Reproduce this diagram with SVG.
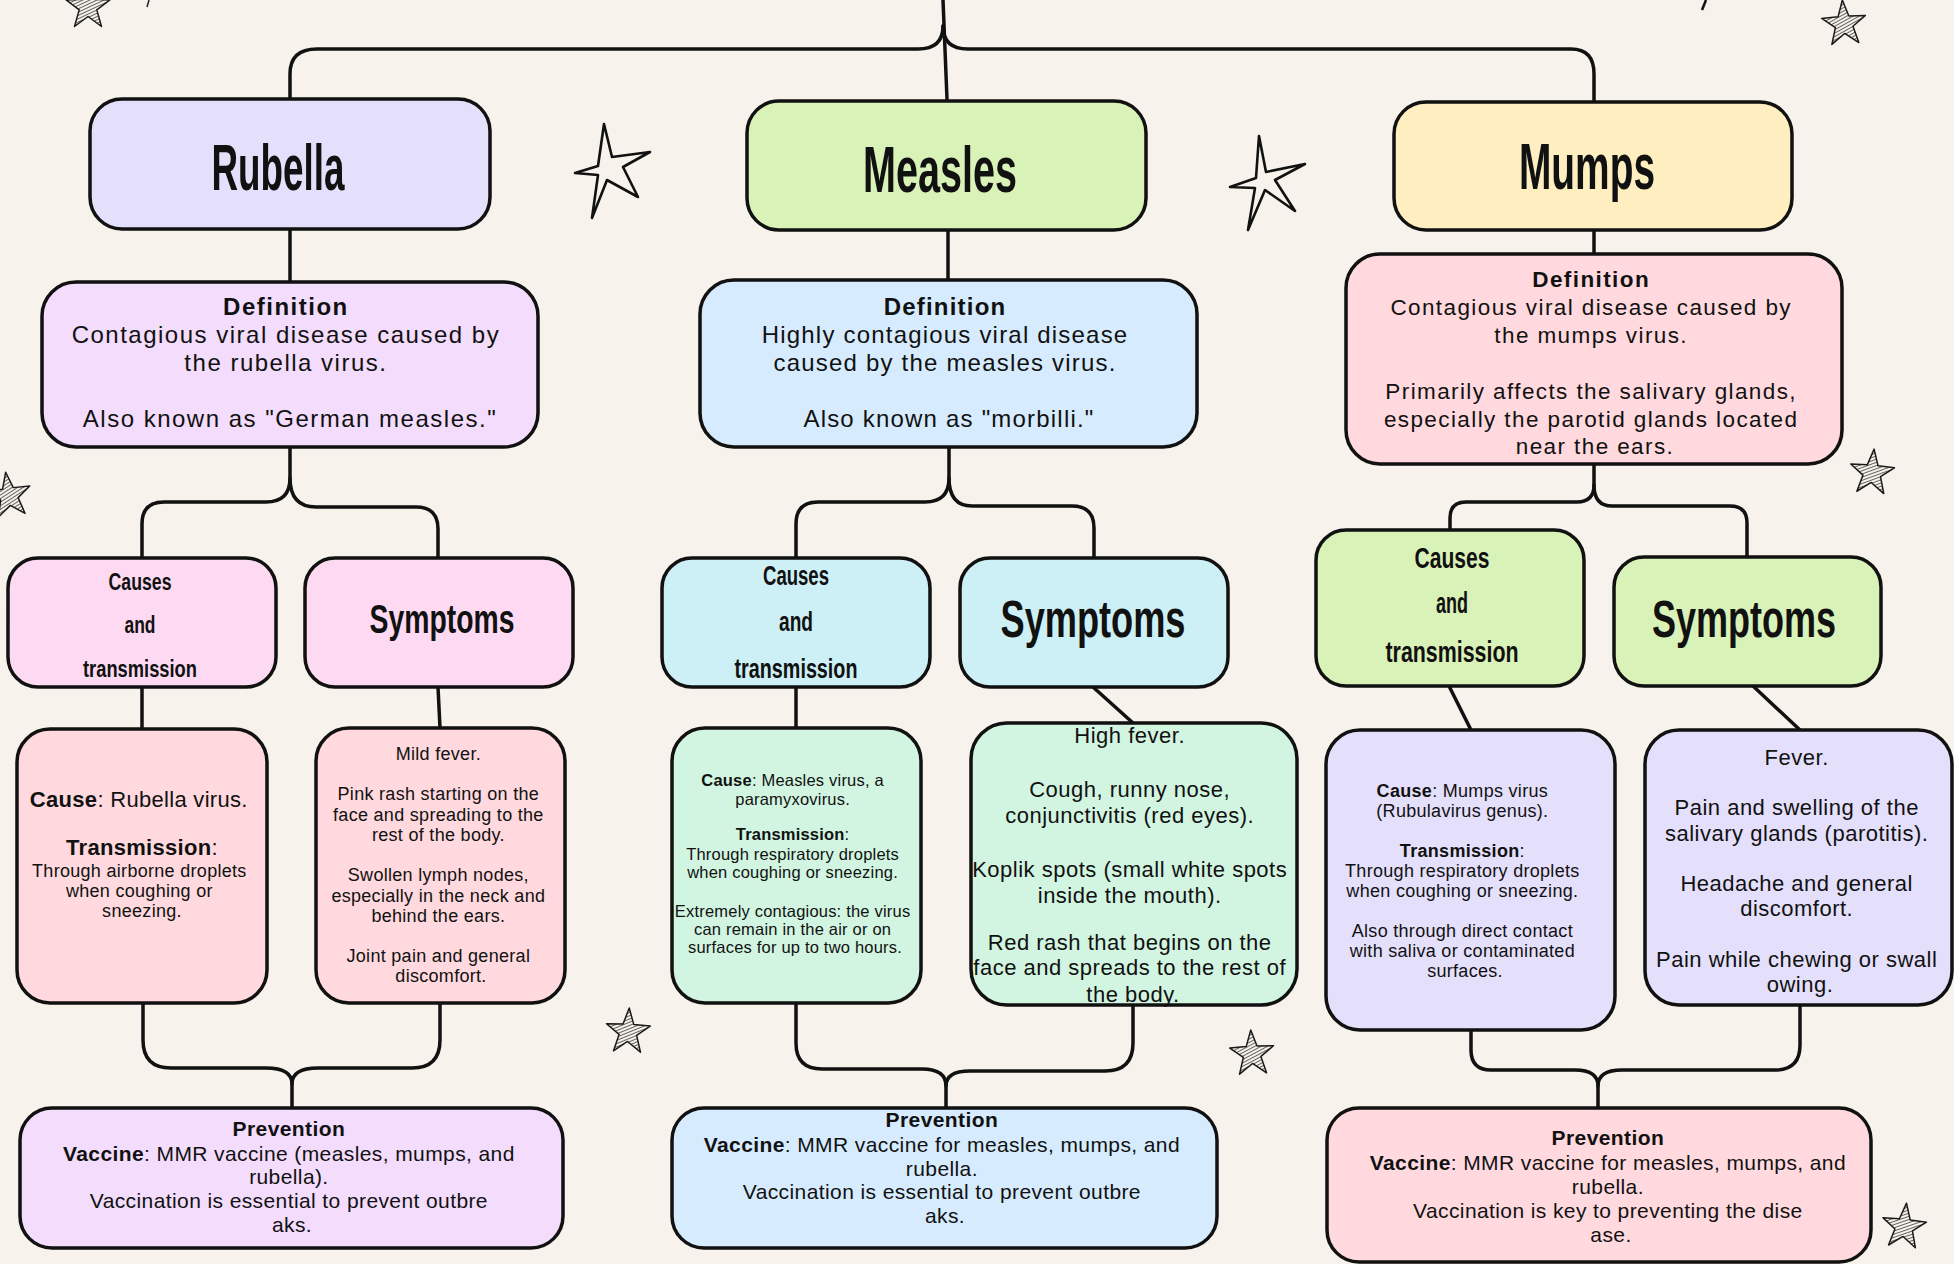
<svg xmlns="http://www.w3.org/2000/svg" width="1954" height="1264" viewBox="0 0 1954 1264">
<style>
.box{stroke:#111;stroke-width:3.5}
.conn{fill:none;stroke:#111;stroke-width:3.5;stroke-linecap:round;stroke-linejoin:round}
.ttl{font-family:"Liberation Sans",Arial,sans-serif;font-weight:bold;fill:#111;text-anchor:middle}
.t{font-family:"Liberation Sans",Arial,sans-serif;fill:#111;text-anchor:middle}
.def{font-size:24px;letter-spacing:1.2px}
.defr{font-size:24px;letter-spacing:1.5px}
.defs{font-size:22.5px;letter-spacing:1.4px}
.b{font-weight:bold}
.s18{font-size:18px;letter-spacing:0.3px}
.s16{font-size:16.5px;letter-spacing:0.2px}
.s22{font-size:22px;letter-spacing:0.5px}
.pv{font-size:21px;letter-spacing:0.4px}
.ostar{fill:none;stroke:#111;stroke-width:2.6;stroke-linejoin:round}
.hstar{fill:url(#hatch);stroke:#1a1a1a;stroke-width:1.5;stroke-linejoin:round}
</style>
<defs>
<pattern id="hatch" patternUnits="userSpaceOnUse" width="3" height="3" patternTransform="rotate(65)">
<line x1="0" y1="0" x2="0" y2="3" stroke="#222" stroke-width="1.4"/>
</pattern>
<path id="star" d="M0,-24 L5.4,-7.7 L21.9,-7.1 L8.8,2.9 L13.5,19.5 L0,9.5 L-13.5,19.5 L-8.8,2.9 L-21.9,-7.1 L-5.4,-7.7 Z"/>
</defs>
<rect width="1954" height="1264" fill="#F7F3EC"/>

<g id="decorations">
<path class="ostar" d="M604,124 L612,157 L650,152 L623,167 L638,197 L607,180 L592,218 L598,175 L575,173 L598,166 Z"/>
<path class="ostar" d="M1259,136 L1266,172 L1305,164 L1275,180 L1295,211 L1265,190 L1248,230 L1255,188 L1230,187 L1256,178 Z"/>
<use href="#star" class="hstar" transform="translate(88,7)"/>
<use href="#star" class="hstar" transform="translate(1844,24) rotate(-4)"/>
<use href="#star" class="hstar" transform="translate(1872,473) rotate(5)"/>
<use href="#star" class="hstar" transform="translate(9,496) rotate(-8)"/>
<use href="#star" class="hstar" transform="translate(628,1032) rotate(3)"/>
<use href="#star" class="hstar" transform="translate(1252,1054) rotate(-3)"/>
<use href="#star" class="hstar" transform="translate(1904,1227) rotate(6)"/>
<path d="M149,0 L147,7" stroke="#222" stroke-width="1.5" fill="none"/>
<path d="M1706,0 Q1704,5 1702,10" stroke="#111" stroke-width="2.5" fill="none"/>
</g>

<g id="connectors">
<path class="conn" d="M943,0 L947,99"/>
<path class="conn" d="M943,26 Q943,49 918,49 H317 Q290,49 290,74 V99"/>
<path class="conn" d="M943,26 Q943,49 968,49 H1571 Q1594,49 1594,74 V102"/>
<path class="conn" d="M290,229 V282"/>
<path class="conn" d="M948,230 V280"/>
<path class="conn" d="M1594,230 V254"/>
<path class="conn" d="M290,447 V478 Q290,502 266,502 H164 Q142,502 142,524 V558"/>
<path class="conn" d="M290,478 Q290,507 316,507 H416 Q438,507 438,529 V558"/>
<path class="conn" d="M949,447 V478 Q949,502 925,502 H818 Q796,502 796,524 V558"/>
<path class="conn" d="M949,478 Q949,506 972,506 H1072 Q1094,506 1094,528 V558"/>
<path class="conn" d="M1594,464 V485 Q1594,502 1577,502 H1466 Q1450,502 1450,518 V530"/>
<path class="conn" d="M1594,485 Q1594,506 1612,506 H1730 Q1747,506 1747,523 V557"/>
<path class="conn" d="M142,687 V729"/>
<path class="conn" d="M438,687 L440,728"/>
<path class="conn" d="M796,687 V728"/>
<path class="conn" d="M1093,687 L1133,723"/>
<path class="conn" d="M1449,686 L1471,730"/>
<path class="conn" d="M1753,686 L1800,730"/>
<path class="conn" d="M143,1003 V1040 Q143,1068 171,1068 H266 Q292,1068 292,1084 V1108"/>
<path class="conn" d="M440,1003 V1040 Q440,1068 412,1068 H318 Q292,1068 292,1084"/>
<path class="conn" d="M796,1003 V1043 Q796,1069 822,1069 H922 Q946,1069 946,1086 V1108"/>
<path class="conn" d="M1133,1005 V1043 Q1133,1071 1105,1071 H970 Q946,1071 946,1086"/>
<path class="conn" d="M1471,1030 V1050 Q1471,1070 1491,1070 H1575 Q1598,1070 1598,1086 V1108"/>
<path class="conn" d="M1800,1005 V1045 Q1800,1070 1775,1070 H1622 Q1598,1070 1598,1086"/>
</g>

<g id="rubella">
<rect class="box" x="90" y="99" width="400" height="130" rx="32" fill="#E4DFFB"/>
<text class="ttl" x="278" y="190" font-size="64" textLength="133" lengthAdjust="spacingAndGlyphs">Rubella</text>
</g>
<g id="measles">
<rect class="box" x="747" y="101" width="399" height="129" rx="32" fill="#D9F2B8"/>
<text class="ttl" x="940" y="192" font-size="64" textLength="154" lengthAdjust="spacingAndGlyphs">Measles</text>
</g>
<g id="mumps">
<rect class="box" x="1394" y="102" width="398" height="128" rx="32" fill="#FFEFC0"/>
<text class="ttl" x="1587" y="189" font-size="64" textLength="136" lengthAdjust="spacingAndGlyphs">Mumps</text>
</g>

<g id="rubella-definition">
<rect class="box" x="42" y="282" width="496" height="165" rx="34" fill="#F3DCFC"/>
<text class="t defr">
<tspan class="b" x="290" y="315">Definition</tspan>
<tspan x="290" y="343">Contagious viral disease caused by</tspan>
<tspan x="290" y="371">the rubella virus.</tspan>
<tspan x="290" y="427">Also known as "German measles."</tspan>
</text>
</g>
<g id="measles-definition">
<rect class="box" x="700" y="280" width="497" height="167" rx="34" fill="#D6EBFD"/>
<text class="t def">
<tspan class="b" x="949" y="315">Definition</tspan>
<tspan x="949" y="343">Highly contagious viral disease</tspan>
<tspan x="949" y="371">caused by the measles virus.</tspan>
<tspan x="949" y="427">Also known as "morbilli."</tspan>
</text>
</g>
<g id="mumps-definition">
<rect class="box" x="1346" y="254" width="496" height="210" rx="34" fill="#FFD9DE"/>
<text class="t defs">
<tspan class="b" x="1595" y="287">Definition</tspan>
<tspan x="1595" y="315">Contagious viral disease caused by</tspan>
<tspan x="1595" y="343">the mumps virus.</tspan>
<tspan x="1595" y="399">Primarily affects the salivary glands,</tspan>
<tspan x="1595" y="427">especially the parotid glands located</tspan>
<tspan x="1595" y="454">near the ears.</tspan>
</text>
</g>

<g id="rubella-causes">
<rect class="box" x="8" y="558" width="268" height="129" rx="30" fill="#FDDAF2"/>
<text class="ttl" x="140" y="590" font-size="23" textLength="63" lengthAdjust="spacingAndGlyphs">Causes</text>
<text class="ttl" x="140" y="633" font-size="23" textLength="31" lengthAdjust="spacingAndGlyphs">and</text>
<text class="ttl" x="140" y="677" font-size="23" textLength="114" lengthAdjust="spacingAndGlyphs">transmission</text>
</g>
<g id="rubella-symptoms">
<rect class="box" x="305" y="558" width="268" height="129" rx="30" fill="#FDDAF2"/>
<text class="ttl" x="442" y="633" font-size="41" textLength="145" lengthAdjust="spacingAndGlyphs">Symptoms</text>
</g>
<g id="measles-causes">
<rect class="box" x="662" y="558" width="268" height="129" rx="30" fill="#CCF0F5"/>
<text class="ttl" x="796" y="585" font-size="27" textLength="66" lengthAdjust="spacingAndGlyphs">Causes</text>
<text class="ttl" x="796" y="631" font-size="27" textLength="34" lengthAdjust="spacingAndGlyphs">and</text>
<text class="ttl" x="796" y="678" font-size="27" textLength="123" lengthAdjust="spacingAndGlyphs">transmission</text>
</g>
<g id="measles-symptoms">
<rect class="box" x="960" y="558" width="268" height="129" rx="30" fill="#CCF0F5"/>
<text class="ttl" x="1093" y="637" font-size="51" textLength="185" lengthAdjust="spacingAndGlyphs">Symptoms</text>
</g>
<g id="mumps-causes">
<rect class="box" x="1316" y="530" width="268" height="156" rx="30" fill="#D9F2B8"/>
<text class="ttl" x="1452" y="568" font-size="29" textLength="75" lengthAdjust="spacingAndGlyphs">Causes</text>
<text class="ttl" x="1452" y="613" font-size="29" textLength="32" lengthAdjust="spacingAndGlyphs">and</text>
<text class="ttl" x="1452" y="662" font-size="29" textLength="133" lengthAdjust="spacingAndGlyphs">transmission</text>
</g>
<g id="mumps-symptoms">
<rect class="box" x="1614" y="557" width="267" height="129" rx="30" fill="#D9F2B8"/>
<text class="ttl" x="1744" y="637" font-size="51" textLength="184" lengthAdjust="spacingAndGlyphs">Symptoms</text>
</g>

<g id="rubella-cause-details">
<rect class="box" x="17" y="729" width="250" height="274" rx="33" fill="#FFD9DE"/>
<text class="t" font-size="22" letter-spacing="0.3">
<tspan x="142" y="807"><tspan class="b">Cause</tspan>: Rubella virus.</tspan>
<tspan x="142" y="855"><tspan class="b">Transmission</tspan>:</tspan>
</text>
<text class="t s18">
<tspan x="142" y="877">Through airborne droplets</tspan>
<tspan x="142" y="897">when coughing or</tspan>
<tspan x="142" y="917">sneezing.</tspan>
</text>
</g>
<g id="rubella-symptom-details">
<rect class="box" x="316" y="728" width="249" height="275" rx="33" fill="#FFD9DE"/>
<text class="t s18">
<tspan x="441" y="760">Mild fever.</tspan>
<tspan x="441" y="800">Pink rash starting on the</tspan>
<tspan x="441" y="821">face and spreading to the</tspan>
<tspan x="441" y="841">rest of the body.</tspan>
<tspan x="441" y="881">Swollen lymph nodes,</tspan>
<tspan x="441" y="902">especially in the neck and</tspan>
<tspan x="441" y="922">behind the ears.</tspan>
<tspan x="441" y="962">Joint pain and general</tspan>
<tspan x="441" y="982">discomfort.</tspan>
</text>
</g>
<g id="measles-cause-details">
<rect class="box" x="672" y="728" width="249" height="275" rx="33" fill="#D1F5E0"/>
<text class="t s16">
<tspan x="795" y="786"><tspan class="b">Cause</tspan>: Measles virus, a</tspan>
<tspan x="795" y="805">paramyxovirus.</tspan>
<tspan x="795" y="840"><tspan class="b">Transmission</tspan>:</tspan>
<tspan x="795" y="860">Through respiratory droplets</tspan>
<tspan x="795" y="878">when coughing or sneezing.</tspan>
<tspan x="795" y="917">Extremely contagious: the virus</tspan>
<tspan x="795" y="935">can remain in the air or on</tspan>
<tspan x="795" y="953">surfaces for up to two hours.</tspan>
</text>
</g>
<g id="measles-symptom-details">
<rect class="box" x="971" y="723" width="326" height="282" rx="36" fill="#D1F5E0"/>
<text class="t s22">
<tspan x="1133" y="743">High fever.</tspan>
<tspan x="1133" y="797">Cough, runny nose,</tspan>
<tspan x="1133" y="823">conjunctivitis (red eyes).</tspan>
<tspan x="1133" y="877">Koplik spots (small white spots</tspan>
<tspan x="1133" y="903">inside the mouth).</tspan>
<tspan x="1133" y="950">Red rash that begins on the</tspan>
<tspan x="1133" y="975">face and spreads to the rest of</tspan>
<tspan x="1133" y="1002">the body.</tspan>
</text>
</g>
<g id="mumps-cause-details">
<rect class="box" x="1326" y="730" width="289" height="300" rx="34" fill="#E4DFFB"/>
<text class="t s18">
<tspan x="1465" y="797"><tspan class="b">Cause</tspan>: Mumps virus</tspan>
<tspan x="1465" y="817">(Rubulavirus genus).</tspan>
<tspan x="1465" y="857"><tspan class="b">Transmission</tspan>:</tspan>
<tspan x="1465" y="877">Through respiratory droplets</tspan>
<tspan x="1465" y="897">when coughing or sneezing.</tspan>
<tspan x="1465" y="937">Also through direct contact</tspan>
<tspan x="1465" y="957">with saliva or contaminated</tspan>
<tspan x="1465" y="977">surfaces.</tspan>
</text>
</g>
<g id="mumps-symptom-details">
<rect class="box" x="1645" y="730" width="307" height="275" rx="34" fill="#E4DFFB"/>
<text class="t s22">
<tspan x="1800" y="765">Fever.</tspan>
<tspan x="1800" y="815">Pain and swelling of the</tspan>
<tspan x="1800" y="841">salivary glands (parotitis).</tspan>
<tspan x="1800" y="891">Headache and general</tspan>
<tspan x="1800" y="916">discomfort.</tspan>
<tspan x="1800" y="967">Pain while chewing or swall</tspan>
<tspan x="1800" y="992">owing.</tspan>
</text>
</g>

<g id="rubella-prevention">
<rect class="box" x="20" y="1108" width="543" height="140" rx="32" fill="#F3DCFC"/>
<text class="t pv">
<tspan class="b" x="292" y="1136">Prevention</tspan>
<tspan x="292" y="1161"><tspan class="b">Vaccine</tspan>: MMR vaccine (measles, mumps, and</tspan>
<tspan x="292" y="1184">rubella).</tspan>
<tspan x="292" y="1208">Vaccination is essential to prevent outbre</tspan>
<tspan x="292" y="1232">aks.</tspan>
</text>
</g>
<g id="measles-prevention">
<rect class="box" x="672" y="1108" width="545" height="140" rx="32" fill="#D6EBFD"/>
<text class="t pv">
<tspan class="b" x="945" y="1127">Prevention</tspan>
<tspan x="945" y="1152"><tspan class="b">Vaccine</tspan>: MMR vaccine for measles, mumps, and</tspan>
<tspan x="945" y="1176">rubella.</tspan>
<tspan x="945" y="1199">Vaccination is essential to prevent outbre</tspan>
<tspan x="945" y="1223">aks.</tspan>
</text>
</g>
<g id="mumps-prevention">
<rect class="box" x="1327" y="1108" width="544" height="154" rx="32" fill="#FFD9DE"/>
<text class="t pv">
<tspan class="b" x="1611" y="1145">Prevention</tspan>
<tspan x="1611" y="1170"><tspan class="b">Vaccine</tspan>: MMR vaccine for measles, mumps, and</tspan>
<tspan x="1611" y="1194">rubella.</tspan>
<tspan x="1611" y="1218">Vaccination is key to preventing the dise</tspan>
<tspan x="1611" y="1242">ase.</tspan>
</text>
</g>
</svg>
